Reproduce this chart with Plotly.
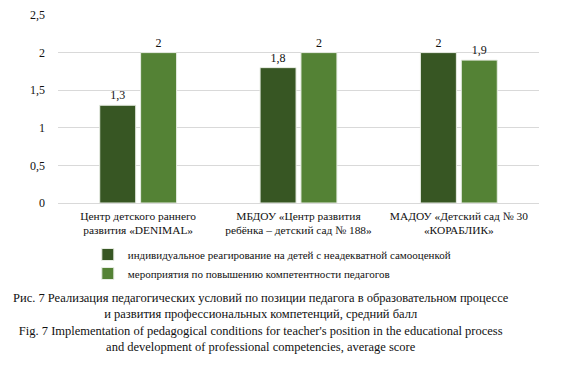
import plotly.graph_objects as go

categories = ["Центр детского раннего<br>развития «DENIMAL»",
              "МБДОУ «Центр развития<br>ребёнка – детский сад № 188»",
              "МАДОУ «Детский сад № 30<br>«КОРАБЛИК»"]
series1_name = "индивидуальное реагирование на детей с неадекватной самооценкой"
series2_name = "мероприятия по повышению компетентности педагогов"
series1 = [1.3, 1.8, 2.0]
series2 = [2.0, 2.0, 1.9]
y_ticks = [0, 0.5, 1, 1.5, 2, 2.5]
y_tick_labels = ["0", "0,5", "1", "1,5", "2", "2,5"]

def fmt(v):
    return ("%g" % v).replace(".", ",")

FONT = "Times New Roman"
fig = go.Figure()
fig.add_trace(go.Bar(x=categories, y=series1, name=series1_name,
                     marker=dict(color="#375623", line=dict(color="#e8ede4", width=1)),
                     text=[fmt(v) for v in series1], textposition="outside",
                     textfont=dict(family=FONT, size=12, color="#111"), cliponaxis=False))
fig.add_trace(go.Bar(x=categories, y=series2, name=series2_name,
                     marker=dict(color="#548235", line=dict(color="#e8ede4", width=1)),
                     text=[fmt(v) for v in series2], textposition="outside",
                     textfont=dict(family=FONT, size=12, color="#111"), cliponaxis=False))

fig.update_layout(
    width=579, height=368,
    margin=dict(l=58, r=40, t=15, b=165, autoexpand=False),
    paper_bgcolor="white", plot_bgcolor="white",
    barmode="group", bargap=0.49, bargroupgap=0.12,
    font=dict(family=FONT, size=12, color="#111"),
    showlegend=True,
    legend=dict(orientation="v", x=0.062, y=1 - 240/368, xanchor="left", yanchor="top",
                yref="container",
                font=dict(family=FONT, size=11, color="#111"),
                itemwidth=30, tracegroupgap=4),
    xaxis=dict(showline=True, linecolor="#d9d9d9", linewidth=1, ticks="",
               ticklabelstandoff=2,
               tickfont=dict(family=FONT, size=11.4, color="#111")),
    yaxis=dict(range=[0, 2.5], tickvals=y_ticks, ticktext=y_tick_labels,
               showgrid=True, gridcolor="#d9d9d9", zeroline=False,
               ticklabelstandoff=12, tickfont=dict(family=FONT, size=12, color="#111")),
)

caption = ("Рис. 7 Реализация педагогических условий по позиции педагога в образовательном процессе<br>"
           "и развития профессиональных компетенций, средний балл<br>"
           "Fig. 7 Implementation of pedagogical conditions for teacher's position in the educational process<br>"
           "and development of professional competencies, average score")
fig.add_annotation(text=caption, xref="paper", yref="paper", x=(261-58)/481,
                   y=-(289-203)/188,
                   xanchor="center", yanchor="top", showarrow=False, align="center",
                   font=dict(family=FONT, size=12.5, color="#111"))

fig.write_html("out.html", config={"displayModeBar": False},
               post_script="document.body.style.margin='0px';")
